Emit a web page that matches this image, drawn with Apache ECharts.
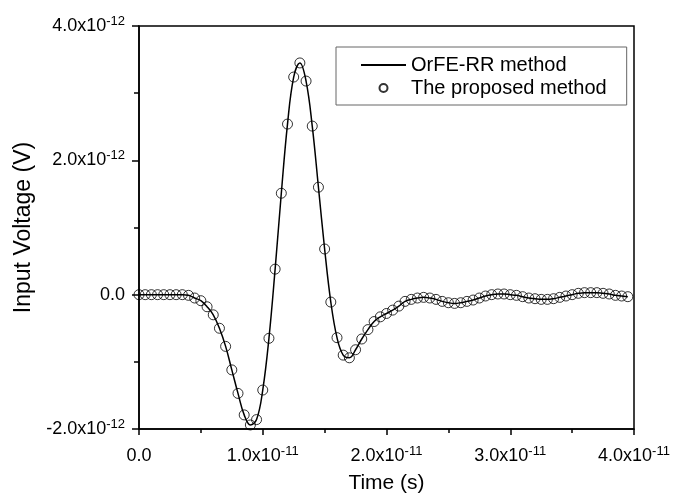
<!DOCTYPE html>
<html>
<head>
<meta charset="utf-8">
<script src="https://cdn.jsdelivr.net/npm/echarts@6/dist/echarts.min.js"></script>
<style>
  html, body { margin: 0; padding: 0; background: #fff; }
  #chart { width: 689px; height: 495px; }
</style>
</head>
<body>
<div id="chart"></div>
<script>
// time in units of 1e-11 s, voltage in units of 1e-12 V
const timeValues = [
  0.00, 0.05, 0.10, 0.15, 0.20, 0.25, 0.30, 0.35, 0.40, 0.45,
  0.50, 0.55, 0.60, 0.65, 0.70, 0.75, 0.80, 0.85, 0.90, 0.95,
  1.00, 1.05, 1.10, 1.15, 1.20, 1.25, 1.30, 1.35, 1.40, 1.45,
  1.50, 1.55, 1.60, 1.65, 1.70, 1.75, 1.80, 1.85, 1.90, 1.95,
  2.00, 2.05, 2.10, 2.15, 2.20, 2.25, 2.30, 2.35, 2.40, 2.45,
  2.50, 2.55, 2.60, 2.65, 2.70, 2.75, 2.80, 2.85, 2.90, 2.95,
  3.00, 3.05, 3.10, 3.15, 3.20, 3.25, 3.30, 3.35, 3.40, 3.45,
  3.50, 3.55, 3.60, 3.65, 3.70, 3.75, 3.80, 3.85, 3.90, 3.95
];
const voltageValues = [
  0, 0, 0, 0, 0, 0, 0, 0, -0.01, -0.05,
  -0.09, -0.18, -0.30, -0.50, -0.77, -1.12, -1.47, -1.79, -1.94, -1.86,
  -1.42, -0.65, 0.38, 1.51, 2.54, 3.24, 3.45, 3.18, 2.51, 1.60,
  0.68, -0.11, -0.64, -0.90, -0.94, -0.82, -0.66, -0.52, -0.40, -0.33,
  -0.28, -0.23, -0.17, -0.10, -0.07, -0.05, -0.04, -0.05, -0.07, -0.10,
  -0.12, -0.13, -0.12, -0.10, -0.08, -0.05, -0.02, 0.00, 0.01, 0.01,
  0.00, -0.01, -0.03, -0.05, -0.06, -0.07, -0.07, -0.06, -0.04, -0.02,
  0.00, 0.02, 0.03, 0.03, 0.03, 0.02, 0.01, -0.01, -0.02, -0.03
];
const xTicks = [0, 1, 2, 3, 4];
const yTicks = [-2, 0, 2, 4];
const seriesNames = ['OrFE-RR method', 'The proposed method'];

const font = 'Liberation Sans, Arial, sans-serif';
const pairs = timeValues.map((t, i) => [t, voltageValues[i]]);

const sciLabel = (exp) => (v) => {
  if (v === 0) return '{b|0.0}';
  return '{b|' + v.toFixed(1) + 'x10}{s|' + exp + '}';
};
const rich = {
  b: { fontSize: 18, fontFamily: font, color: '#000', lineHeight: 22 },
  s: { fontSize: 13, fontFamily: font, color: '#000', verticalAlign: 'top', lineHeight: 13, padding: [0, 0, 10, 0] }
};

const chart = echarts.init(document.getElementById('chart'));
chart.setOption({
  animation: false,
  backgroundColor: '#fff',
  grid: {
    left: 139, right: 55, top: 26, bottom: 66,
    show: true, borderColor: '#000', borderWidth: 1.5,
    outerBoundsMode: 'none'
  },
  legend: {
    orient: 'vertical',
    left: 336, top: 47,
    data: [
      { name: seriesNames[0], itemStyle: { color: 'rgba(0,0,0,0)', borderWidth: 0, opacity: 0 } },
      { name: seriesNames[1], icon: 'circle' }
    ],
    itemWidth: 45, itemHeight: 8, itemGap: 1,
    padding: [7, 20, 6, 24],
    borderColor: '#666', borderWidth: 1,
    textStyle: { fontSize: 20, fontFamily: font, color: '#000', lineHeight: 22 }
  },
  xAxis: {
    type: 'value',
    min: xTicks[0], max: xTicks[xTicks.length - 1], interval: 1,
    name: 'Time (s)', nameLocation: 'middle', nameGap: 44,
    nameTextStyle: { fontSize: 21, fontFamily: font, color: '#000' },
    axisLine: { onZero: false, lineStyle: { color: '#000', width: 1.5 } },
    axisTick: { inside: false, length: 6, lineStyle: { color: '#000', width: 1.5 } },
    minorTick: { show: true, splitNumber: 2, length: 4, lineStyle: { color: '#000', width: 1.5 } },
    splitLine: { show: false },
    axisLabel: { margin: 16, formatter: sciLabel('-11'), rich: rich }
  },
  yAxis: {
    type: 'value',
    min: yTicks[0], max: yTicks[yTicks.length - 1], interval: 2,
    name: 'Input Voltage (V)', nameLocation: 'middle', nameGap: 103,
    nameTextStyle: { fontSize: 23, fontFamily: font, color: '#000' },
    axisLine: { onZero: false, lineStyle: { color: '#000', width: 1.5 } },
    axisTick: { inside: false, length: 7, lineStyle: { color: '#000', width: 1.5 } },
    minorTick: { show: true, splitNumber: 2, length: 5, lineStyle: { color: '#000', width: 1.5 } },
    splitLine: { show: false },
    axisLabel: { margin: 14, formatter: sciLabel('-12'), rich: rich }
  },
  series: [
    {
      name: seriesNames[0],
      type: 'line',
      data: pairs,
      smooth: 0.4,
      symbol: 'none',
      lineStyle: { color: '#000', width: 1.5 },
      itemStyle: { color: '#000' }
    },
    {
      name: seriesNames[1],
      type: 'scatter',
      data: pairs,
      symbol: 'circle',
      symbolSize: 10,
      itemStyle: { color: 'rgba(255,255,255,0)', borderColor: '#000', borderWidth: 1 }
    }
  ]
});
</script>
</body>
</html>
